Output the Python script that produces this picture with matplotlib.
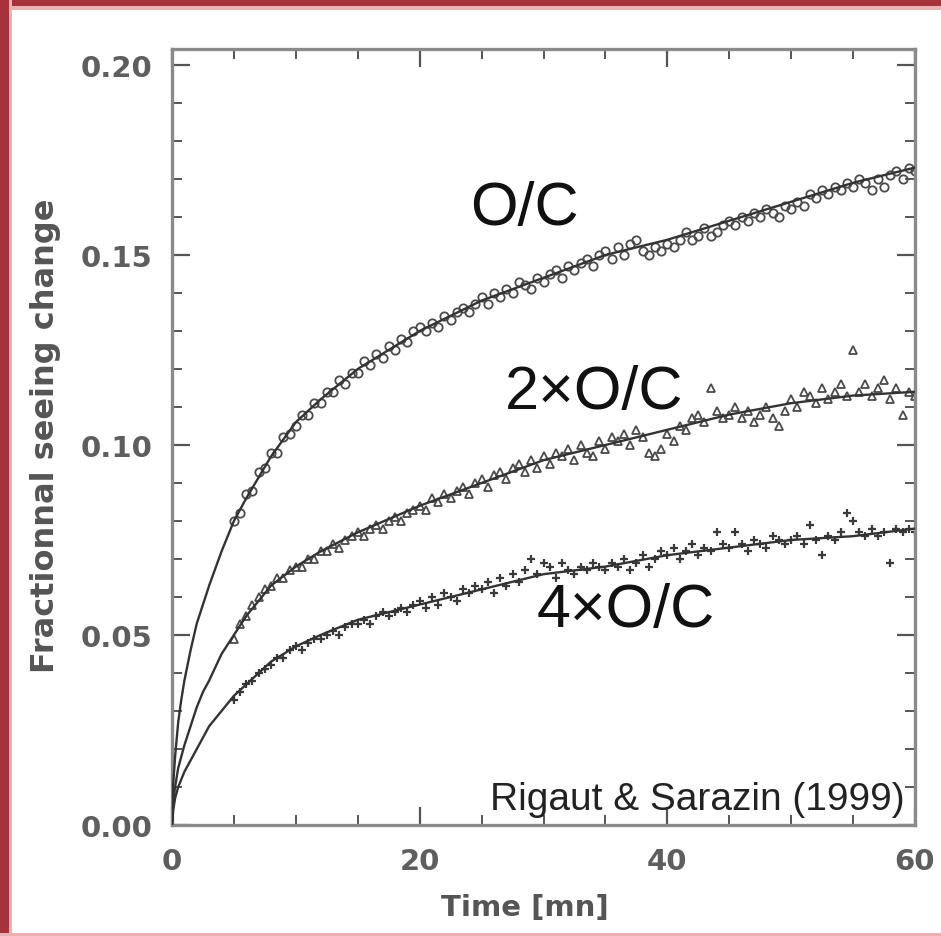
import numpy as np
import matplotlib
matplotlib.use("Agg")
import matplotlib.pyplot as plt
from matplotlib.patches import Rectangle
from matplotlib.ticker import MultipleLocator

# ---------------- data ----------------
# fitted curves
fit_t = [0, 0.1, 0.25, 0.5, 0.75, 1, 1.5, 2, 2.5, 3, 4, 5, 6, 8, 10, 12, 15, 20, 25, 30, 35, 40, 45, 50, 55, 60]
fit_oc = [0, 0.011, 0.018, 0.027, 0.033, 0.038, 0.046, 0.053, 0.058, 0.063, 0.072, 0.080, 0.086,
          0.097, 0.106, 0.112, 0.120, 0.130, 0.138, 0.144, 0.150, 0.154, 0.159, 0.164, 0.169, 0.173]
fit_2oc = [0, 0.006, 0.010, 0.015, 0.018, 0.021, 0.026, 0.031, 0.035, 0.038, 0.045, 0.050, 0.055,
           0.063, 0.068, 0.072, 0.077, 0.084, 0.090, 0.096, 0.100, 0.104, 0.108, 0.111, 0.113, 0.114]
fit_4oc = [0, 0.004, 0.007, 0.010, 0.012, 0.014, 0.017, 0.020, 0.023, 0.026, 0.030, 0.034, 0.037,
           0.043, 0.047, 0.050, 0.054, 0.058, 0.062, 0.066, 0.068, 0.071, 0.073, 0.075, 0.076, 0.078]

# measured points, every 0.5 mn from 5 to 60 mn
t_pts = np.arange(5.0, 60.01, 0.5)
oc_pts = [0.080, 0.082, 0.087, 0.088, 0.093, 0.094, 0.098, 0.098, 0.102, 0.103,
          0.105, 0.108, 0.108, 0.111, 0.111, 0.114, 0.114, 0.117, 0.116, 0.119,
          0.119, 0.122, 0.121, 0.124, 0.123, 0.126, 0.125, 0.128, 0.127, 0.130,
          0.131, 0.130, 0.132, 0.131, 0.134, 0.133, 0.135, 0.136, 0.135, 0.137,
          0.139, 0.137, 0.140, 0.139, 0.141, 0.140, 0.143, 0.142, 0.141, 0.144,
          0.143, 0.145, 0.146, 0.144, 0.147, 0.146, 0.148, 0.149, 0.147, 0.150,
          0.151, 0.149, 0.152, 0.150, 0.153, 0.154, 0.151, 0.150, 0.152, 0.151,
          0.153, 0.152, 0.154, 0.156, 0.154, 0.155, 0.157, 0.155, 0.156, 0.158,
          0.159, 0.158, 0.160, 0.159, 0.161, 0.160, 0.162, 0.161, 0.160, 0.163,
          0.162, 0.164, 0.163, 0.166, 0.165, 0.167, 0.166, 0.168, 0.167, 0.169,
          0.168, 0.170, 0.169, 0.167, 0.170, 0.168, 0.171, 0.172, 0.170, 0.173,
          0.172]
oc2_pts = [0.049, 0.053, 0.055, 0.058, 0.060, 0.062, 0.063, 0.065, 0.065, 0.067,
           0.068, 0.068, 0.070, 0.070, 0.072, 0.072, 0.074, 0.073, 0.075, 0.076,
           0.077, 0.076, 0.078, 0.079, 0.078, 0.080, 0.081, 0.080, 0.082, 0.083,
           0.084, 0.083, 0.086, 0.085, 0.087, 0.086, 0.088, 0.089, 0.087, 0.090,
           0.091, 0.089, 0.092, 0.093, 0.091, 0.094, 0.095, 0.093, 0.096, 0.094,
           0.097, 0.095, 0.098, 0.097, 0.099, 0.096, 0.100, 0.098, 0.097, 0.101,
           0.099, 0.102, 0.101, 0.103, 0.100, 0.104, 0.102, 0.098, 0.097, 0.099,
           0.103, 0.101, 0.105, 0.104, 0.107, 0.108, 0.106, 0.115, 0.109, 0.107,
           0.108, 0.110, 0.107, 0.109, 0.106, 0.108, 0.110, 0.107, 0.105, 0.109,
           0.112, 0.110, 0.114, 0.113, 0.111, 0.115, 0.112, 0.114, 0.116, 0.113,
           0.125, 0.114, 0.116, 0.113, 0.115, 0.117, 0.112, 0.115, 0.108, 0.114,
           0.113]
oc4_pts = [0.033, 0.035, 0.037, 0.038, 0.040, 0.041, 0.042, 0.044, 0.044, 0.046,
           0.047, 0.046, 0.048, 0.049, 0.049, 0.050, 0.051, 0.050, 0.052, 0.053,
           0.053, 0.054, 0.053, 0.055, 0.056, 0.055, 0.056, 0.057, 0.056, 0.058,
           0.059, 0.057, 0.060, 0.058, 0.061, 0.060, 0.059, 0.062, 0.061, 0.063,
           0.062, 0.064, 0.061, 0.065, 0.063, 0.066, 0.064, 0.067, 0.070, 0.066,
           0.069, 0.068, 0.065, 0.069, 0.067, 0.066, 0.068, 0.067, 0.069, 0.068,
           0.067, 0.069, 0.068, 0.070, 0.067, 0.069, 0.071, 0.068, 0.070, 0.072,
           0.071, 0.073, 0.070, 0.072, 0.074, 0.071, 0.073, 0.072, 0.077, 0.074,
           0.073, 0.077, 0.074, 0.072, 0.075, 0.074, 0.073, 0.076, 0.075, 0.074,
           0.075, 0.076, 0.074, 0.079, 0.075, 0.071, 0.076, 0.075, 0.077, 0.082,
           0.080, 0.077, 0.076, 0.078, 0.076, 0.077, 0.069, 0.078, 0.077, 0.078,
           0.077]

labels = ["O/C", "2\u00d7O/C", "4\u00d7O/C"]
xticks = [0, 20, 40, 60]
yticks = [0.00, 0.05, 0.10, 0.15, 0.20]

# ---------------- figure ----------------
W, H = 941, 937
fig = plt.figure(figsize=(W / 100, H / 100), dpi=100)
fig.patch.set_facecolor("white")

# red frame (top, left, bottom)
frame_dark = "#a8323b"
frame_light = "#eab0b2"
fig.patches.append(Rectangle((0, 1 - 11 / H), 1, 11 / H, transform=fig.transFigure,
                             facecolor=frame_light, edgecolor="none", zorder=0))
fig.patches.append(Rectangle((0, 1 - 7 / H), 1, 7 / H, transform=fig.transFigure,
                             facecolor=frame_dark, edgecolor="none", zorder=0))
fig.patches.append(Rectangle((0, 0), 12 / W, 1, transform=fig.transFigure,
                             facecolor=frame_light, edgecolor="none", zorder=0))
fig.patches.append(Rectangle((0, 0), 9 / W, 1, transform=fig.transFigure,
                             facecolor=frame_dark, edgecolor="none", zorder=0))
fig.patches.append(Rectangle((0, 0), 1, 3 / H, transform=fig.transFigure,
                             facecolor=frame_light, edgecolor="none", zorder=0))

ax = fig.add_axes([172 / W, (H - 826) / H, 743 / W, 776 / H])
ax.set_xlim(0, 60)
ax.set_ylim(0, 0.2042)

gray_line = "#333333"
mk_col = "#4a4a4a"
ax.plot(fit_t, fit_oc, color=gray_line, lw=1.7, zorder=3)
ax.plot(fit_t, fit_2oc, color=gray_line, lw=1.7, zorder=3)
ax.plot(fit_t, fit_4oc, color=gray_line, lw=1.7, zorder=3)

ax.plot(t_pts, oc_pts, ls="none", marker="o", ms=6, mfc="none", mec=mk_col, mew=1.3, zorder=2)
ax.plot(t_pts, oc2_pts, ls="none", marker="^", ms=6, mfc="none", mec=mk_col, mew=1.3, zorder=2)
ax.plot(t_pts, oc4_pts, ls="none", marker="+", ms=6, mec="#3a3a3a", mew=1.6, zorder=2)

# ticks & spines
ax.set_xticks(xticks)
ax.set_yticks(yticks)
ax.set_yticklabels([f"{v:.2f}" for v in yticks])
ax.xaxis.set_minor_locator(MultipleLocator(5))
ax.yaxis.set_minor_locator(MultipleLocator(0.01))
ax.tick_params(which="both", direction="in", top=True, right=True, color="#555555")
ax.tick_params(which="major", length=13, width=1.6)
ax.tick_params(which="minor", length=7, width=1.4)
ax.tick_params(axis="y", which="major", pad=14)
ax.tick_params(axis="x", which="major", pad=16)
for sp in ax.spines.values():
    sp.set_color("#8a8a8a")
    sp.set_linewidth(2.4)
for lab in ax.get_xticklabels() + ax.get_yticklabels():
    lab.set_fontfamily("DejaVu Sans")
    lab.set_fontweight("bold")
    lab.set_fontsize(21)
    lab.set_color("#5e5e5e")

ax.set_xlabel("Time [mn]", fontsize=21, fontweight="bold", color="#555555",
              family="DejaVu Sans", va="center")
ax.xaxis.set_label_coords((525 - 172) / 743, (826 - 908) / 776)
ax.set_ylabel("Fractionnal seeing change", fontsize=23, fontweight="bold", color="#555555",
              family="DejaVu Sans", va="center")
ax.yaxis.set_label_coords((46 - 172) / 743, (826 - 436) / 776)

# annotations
txt_kw = dict(family="Liberation Sans", fontsize=44, color="#111111", ha="center", va="center")
fig.text(524 / W, 1 - 210 / H, labels[0], **txt_kw)
fig.text(594 / W, 1 - 393 / H, labels[1], **txt_kw)
fig.text(626 / W, 1 - 612 / H, labels[2], **txt_kw)
fig.text(905 / W, 1 - 800 / H, "Rigaut & Sarazin (1999)", family="Liberation Sans",
         fontsize=28, color="#222222", ha="right", va="center")

fig.savefig("out.png", dpi=100, facecolor=fig.get_facecolor())
